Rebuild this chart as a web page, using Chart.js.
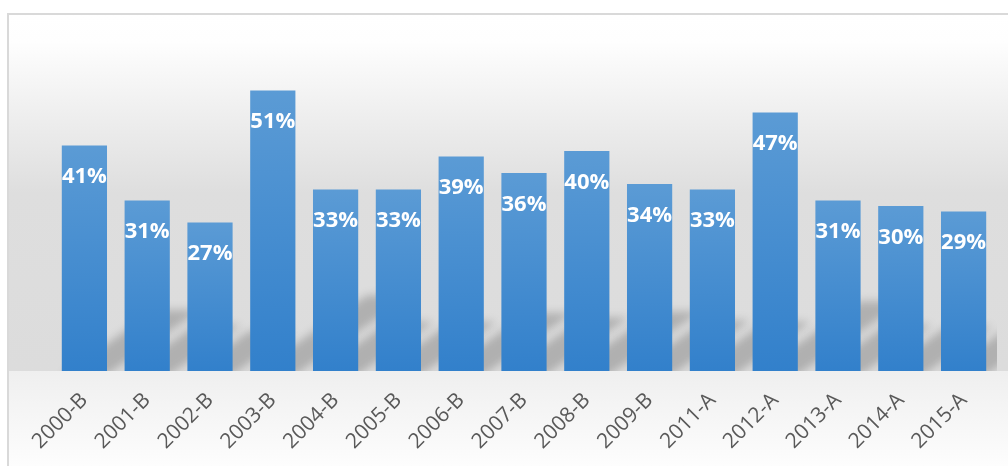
<!doctype html>
<html lang="en">
<head>
<meta charset="utf-8">
<title>Bar chart</title>
<script src="https://cdn.jsdelivr.net/npm/chart.js"></script>
<style>
  html, body { margin: 0; padding: 0; overflow: hidden; background: #fff; }
  #frame {
    position: absolute; left: 7px; top: 13px;
    width: 1010px; height: 460px;
    border-left: 2px solid #d9d9d9; border-top: 2px solid #d9d9d9;
    background: #fff;
  }
  #myChart { position: absolute; left: 0; top: 0; }
</style>
</head>
<body>
<div id="frame">
  <canvas id="myChart" width="999" height="451" style="width:999px;height:451px"></canvas>
</div>

<script>
// data
var labels = ['2000-B', '2001-B', '2002-B', '2003-B', '2004-B', '2005-B', '2006-B', '2007-B',
              '2008-B', '2009-B', '2011-A', '2012-A', '2013-A', '2014-A', '2015-A'];
var values = [41, 31, 27, 51, 33, 33, 39, 36, 40, 34, 33, 47, 31, 30, 29];

// background: grey plot area fading from white, lighter band under the baseline
var bgPlugin = {
  id: 'bg',
  beforeDraw: function(chart) {
    var c = chart.ctx, a = chart.chartArea, W = chart.width, H = chart.height;
    c.save();
    var g1 = c.createLinearGradient(0, 0, 0, a.bottom);
    g1.addColorStop(0, '#ffffff');
    g1.addColorStop(a.top / a.bottom, '#fefefe');
    g1.addColorStop(0.5, '#dedede');
    g1.addColorStop(1, '#dcdcdc');
    c.fillStyle = g1;
    c.fillRect(0, 0, W, a.bottom);
    var g2 = c.createLinearGradient(0, a.bottom, 0, H);
    g2.addColorStop(0, '#efefef');
    g2.addColorStop(1, '#fdfdfd');
    c.fillStyle = g2;
    c.fillRect(0, a.bottom, W, H - a.bottom);
    c.restore();
  }
};

// soft perspective shadow behind each bar, leaning to the upper right
var shadowPlugin = {
  id: 'barShadow',
  beforeDatasetsDraw: function(chart) {
    var c = chart.ctx, a = chart.chartArea;
    var meta = chart.getDatasetMeta(0);
    c.save();
    c.beginPath();
    c.rect(0, 0, a.right + 2, a.bottom);
    c.clip();
    c.filter = 'blur(4px)';
    c.fillStyle = 'rgba(0,0,0,0.2)';
    meta.data.forEach(function(el) {
      var w = el.width, dy = (el.base - el.y) * 0.27, dx = dy / 0.65;
      c.beginPath();
      c.moveTo(el.x - w / 2, el.base + 4);
      c.lineTo(el.x + w / 2, el.base + 4);
      c.lineTo(el.x + w / 2 + dx, el.base - dy);
      c.lineTo(el.x - w / 2 + dx, el.base - dy);
      c.closePath();
      c.fill();
    });
    c.restore();
  }
};

// white % labels inside the top of each bar
var valueLabels = {
  id: 'valueLabels',
  afterDatasetsDraw: function(chart) {
    var c = chart.ctx;
    var meta = chart.getDatasetMeta(0);
    c.save();
    c.font = 'bold 22px "Open Sans"';
    c.fillStyle = '#ffffff';
    c.textAlign = 'center';
    c.textBaseline = 'alphabetic';
    meta.data.forEach(function(el, i) {
      c.fillText(Math.round(values[i]) + '%', el.x, el.y + 37.5);
    });
    c.restore();
  }
};

function barFill(ctx) {
  var chart = ctx.chart;
  if (!chart.chartArea || !chart.scales.y) return '#4a8fd0';
  var y = chart.scales.y;
  var top = y.getPixelForValue(ctx.raw), bottom = y.getPixelForValue(0);
  var g = chart.ctx.createLinearGradient(0, top, 0, bottom);
  g.addColorStop(0, '#5b9bd5');
  g.addColorStop(1, '#3280cb');
  return g;
}

new Chart(document.getElementById('myChart'), {
  type: 'bar',
  data: {
    labels: labels,
    datasets: [{
      data: values,
      backgroundColor: barFill,
      borderWidth: 0,
      barPercentage: 0.72,
      categoryPercentage: 1
    }]
  },
  options: {
    responsive: false,
    animation: false,
    layout: { padding: { left: 44, right: 13, top: 26, bottom: 0 } },
    plugins: { legend: { display: false }, tooltip: { enabled: false } },
    scales: {
      x: {
        grid: { display: false },
        border: { display: false },
        ticks: {
          autoSkip: false,
          minRotation: 45,
          maxRotation: 45,
          padding: 9,
          color: '#595959',
          font: { family: 'Open Sans', size: 21 }
        },
        afterFit: function(s) { s.height = 95; s.paddingLeft = 0; s.paddingRight = 0; }
      },
      y: { display: false, min: 0, max: 60 }
    }
  },
  plugins: [bgPlugin, shadowPlugin, valueLabels]
});
</script>
</body>
</html>
